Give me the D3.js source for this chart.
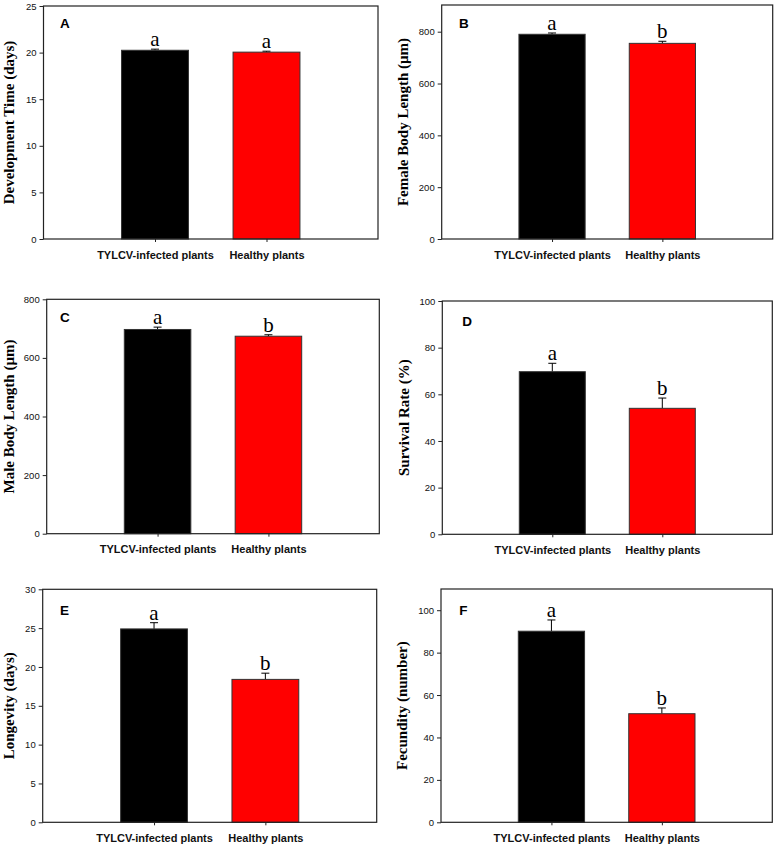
<!DOCTYPE html>
<html>
<head>
<meta charset="utf-8">
<script src="https://cdn.jsdelivr.net/npm/d3@7"></script>
<style>
  html, body { margin: 0; padding: 0; background: #fff; }
  svg { display: block; }
</style>
</head>
<body>
<svg id="chart" width="779" height="847"></svg>
<script>
// ---------- data ----------
const categories = ["TYLCV-infected plants", "Healthy plants"];
const panelIds = ["A", "B", "C", "D", "E", "F"];
const yTitles = ["Development Time (days)", "Female Body Length (\u00b5m)", "Male Body Length (\u00b5m)",
                 "Survival Rate (%)", "Longevity (days)", "Fecundity (number)"];
const meansA = [20.25, 20.05];
const errorsA = [0.12, 0.1];
const meansB = [790, 755];
const errorsB = [5, 8];
const meansC = [697, 674];
const errorsC = [8, 5];
const meansD = [69.7, 54.0];
const errorsD = [3.6, 4.4];
const meansE = [24.9, 18.4];
const errorsE = [0.8, 0.8];
const meansF = [90.1, 51.2];
const errorsF = [5.3, 2.7];
const lettersA = ["a", "a"];
const lettersB = ["a", "b"];
const lettersC = ["a", "b"];
const lettersD = ["a", "b"];
const lettersE = ["a", "b"];
const lettersF = ["a", "b"];
const yMaxes = [25, 903, 800, 100, 30, 110];
const tickValuesA = [0, 5, 10, 15, 20, 25];
const tickValuesB = [0, 200, 400, 600, 800];
const tickValuesC = [0, 200, 400, 600, 800];
const tickValuesD = [0, 20, 40, 60, 80, 100];
const tickValuesE = [0, 5, 10, 15, 20, 25, 30];
const tickValuesF = [0, 20, 40, 60, 80, 100];
const barColors = ["#000000", "#ff0000"];

// ---------- layout ----------
const layout = [
  {l: 43.5, t: 6,     r: 378,   b: 239,   tx: 9,   lx: 16.5, ly: 22},
  {l: 441.7, t: 5,    r: 772.7, b: 239,   tx: 403, lx: 17.3, ly: 23},
  {l: 46.7, t: 299.3, r: 379.3, b: 533.7, tx: 9,   lx: 13.3, ly: 22.7},
  {l: 442.3, t: 301,  r: 772.3, b: 534.3, tx: 404, lx: 20,   ly: 25},
  {l: 42.7, t: 589.3, r: 376.7, b: 822.3, tx: 9,   lx: 17.3, ly: 25.7},
  {l: 441, t: 589,    r: 772.3, b: 822.3, tx: 402, lx: 18.3, ly: 26}
];
const meansAll = [meansA, meansB, meansC, meansD, meansE, meansF];
const errorsAll = [errorsA, errorsB, errorsC, errorsD, errorsE, errorsF];
const lettersAll = [lettersA, lettersB, lettersC, lettersD, lettersE, lettersF];
const ticksAll = [tickValuesA, tickValuesB, tickValuesC, tickValuesD, tickValuesE, tickValuesF];

const svg = d3.select("#chart");

panelIds.forEach((id, i) => {
  const L = layout[i];
  const w = L.r - L.l, h = L.b - L.t;
  const g = svg.append("g").attr("transform", `translate(${L.l},${L.t})`);

  const x = d3.scalePoint().domain(categories).range([0, w]).padding(1);
  const y = d3.scaleLinear().domain([0, yMaxes[i]]).range([h, 0]);
  const bw = w * 0.2;

  const rows = categories.map((c, k) => ({c, v: meansAll[i][k], e: errorsAll[i][k], lab: lettersAll[i][k], col: barColors[k]}));

  // error bars (upper only)
  g.selectAll("line.err").data(rows).join("line")
    .attr("x1", d => x(d.c)).attr("x2", d => x(d.c))
    .attr("y1", d => y(d.v)).attr("y2", d => y(d.v + d.e))
    .attr("stroke", "#000").attr("stroke-width", 1);
  g.selectAll("line.cap").data(rows).join("line")
    .attr("x1", d => x(d.c) - 4).attr("x2", d => x(d.c) + 4)
    .attr("y1", d => y(d.v + d.e)).attr("y2", d => y(d.v + d.e))
    .attr("stroke", "#000").attr("stroke-width", 1);

  // bars
  g.selectAll("rect.bar").data(rows).join("rect")
    .attr("x", d => x(d.c) - bw / 2).attr("width", bw)
    .attr("y", d => y(d.v)).attr("height", d => h - y(d.v))
    .attr("fill", d => d.col).attr("stroke", "#333").attr("stroke-width", 1);

  // significance letters
  g.selectAll("text.sig").data(rows).join("text")
    .attr("x", d => x(d.c)).attr("y", d => y(d.v + d.e) - 3)
    .attr("text-anchor", "middle")
    .attr("font-family", "Liberation Serif, Times New Roman, serif")
    .attr("font-size", 21)
    .text(d => d.lab);

  // frame
  g.append("rect").attr("x", 0).attr("y", 0).attr("width", w).attr("height", h)
    .attr("fill", "none").attr("stroke", "#222").attr("stroke-width", 1.2);

  // y axis
  const ya = g.append("g").call(d3.axisLeft(y).tickValues(ticksAll[i]).tickSize(4).tickPadding(3).tickFormat(d3.format("d")));
  ya.select(".domain").remove();
  ya.selectAll("text").attr("font-family", "Liberation Sans, Arial, sans-serif").attr("font-size", 9.5).attr("fill", "#111");
  ya.selectAll("line").attr("stroke", "#222");

  // x axis
  const xa = g.append("g").attr("transform", `translate(0,${h})`)
    .call(d3.axisBottom(x).tickSize(3).tickPadding(9));
  xa.select(".domain").remove();
  xa.selectAll("text").attr("font-family", "Liberation Sans, Arial, sans-serif")
    .attr("font-size", 11).attr("font-weight", "bold").attr("fill", "#111");
  xa.selectAll("line").attr("stroke", "#222");

  // panel letter
  g.append("text").attr("x", L.lx).attr("y", L.ly)
    .attr("font-family", "Liberation Sans, Arial, sans-serif")
    .attr("font-size", 13.5).attr("font-weight", "bold").text(id);

  // y title
  svg.append("text")
    .attr("transform", `translate(${L.tx + 5},${L.t + h / 2}) rotate(-90)`)
    .attr("text-anchor", "middle")
    .attr("font-family", "Liberation Serif, Times New Roman, serif")
    .attr("font-size", 15).attr("font-weight", "bold")
    .text(yTitles[i]);
});
</script>
</body>
</html>
